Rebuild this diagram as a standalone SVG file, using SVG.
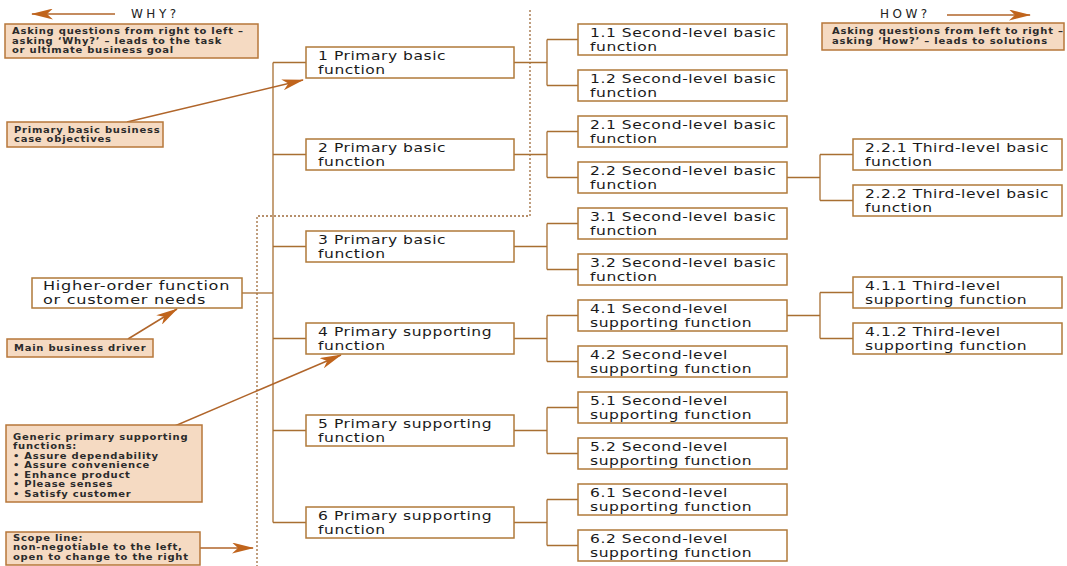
<svg xmlns="http://www.w3.org/2000/svg" width="1067" height="566" viewBox="0 0 1067 566">
<style>
  .node { fill: #ffffff; stroke: #b07a3a; stroke-width: 1.5; }
  .ann { fill: #f5dac2; stroke: #b7773a; stroke-width: 1.5; }
  .conn { fill: none; stroke: #a86f32; stroke-width: 1.3; }
  .arrow { fill: none; stroke: #b0652a; stroke-width: 1.5; }
  .scope { fill: none; stroke: #9e6b3b; stroke-width: 1.3; stroke-dasharray: 2 2; }
  .t { font-family: "DejaVu Sans", Verdana, sans-serif; font-size: 11.5px; letter-spacing: 0.4px; fill: #1a1a1a; }
  .th { font-family: "DejaVu Sans", Verdana, sans-serif; font-size: 11.5px; letter-spacing: 0.5px; fill: #1a1a1a; }
  .ta { font-family: "DejaVu Sans", Verdana, sans-serif; font-size: 8px; font-weight: bold; letter-spacing: 0.6px; fill: #2b2b2b; }
  .tq { font-family: "DejaVu Sans", Verdana, sans-serif; font-size: 12px; letter-spacing: 3.5px; fill: #222222; }
</style>
<defs>
  <marker id="ah" markerUnits="userSpaceOnUse" markerWidth="22" markerHeight="11" refX="21" refY="5.5" orient="auto">
    <path d="M0,0 L22,5.5 L0,11 L6,5.5 z" fill="#c0641c"/>
  </marker>
</defs>
<rect width="1067" height="566" fill="#ffffff"/>

<!-- scope line -->
<path id="scope-line" class="scope" d="M530,10 V216 H257 V566"/>

<!-- connectors -->
<g id="connectors">
  <path class="conn" d="M273,62.5 V522.5"/>
  <path class="conn" d="M273,62.5 H306 M273,154.5 H306 M273,246.5 H306 M273,338.5 H306 M273,430.5 H306 M273,522.5 H306"/>
  <path class="conn" d="M242,293 H273"/>
  <path class="conn" d="M514,62.5 H547 M547,39.5 V85.5 M547,39.5 H578 M547,85.5 H578"/>
  <path class="conn" d="M514,154.5 H547 M547,131.5 V177.5 M547,131.5 H578 M547,177.5 H578"/>
  <path class="conn" d="M514,246.5 H547 M547,223.5 V269.5 M547,223.5 H578 M547,269.5 H578"/>
  <path class="conn" d="M514,338.5 H547 M547,315.5 V361.5 M547,315.5 H578 M547,361.5 H578"/>
  <path class="conn" d="M514,430.5 H547 M547,407.5 V453.5 M547,407.5 H578 M547,453.5 H578"/>
  <path class="conn" d="M514,522.5 H547 M547,499.5 V545.5 M547,499.5 H578 M547,545.5 H578"/>
  <path class="conn" d="M787,177.5 H820 M820,154.5 V200.5 M820,154.5 H853 M820,200.5 H853"/>
  <path class="conn" d="M787,315.5 H820 M820,292.5 V338.5 M820,292.5 H853 M820,338.5 H853"/>
  <line class="arrow" x1="115" y1="14" x2="32" y2="14" marker-end="url(#ah)"/>
  <line class="arrow" x1="947" y1="15" x2="1030" y2="15" marker-end="url(#ah)"/>
  <line class="arrow" x1="127" y1="122" x2="303" y2="80" marker-end="url(#ah)"/>
  <line class="arrow" x1="128" y1="339" x2="177" y2="309" marker-end="url(#ah)"/>
  <line class="arrow" x1="163" y1="431" x2="341" y2="355" marker-end="url(#ah)"/>
  <line class="arrow" x1="200" y1="548" x2="253" y2="548" marker-end="url(#ah)"/>
</g>

<!-- direction labels -->
<text class="tq" x="131" y="18">WHY?</text>
<text class="tq" x="880" y="18">HOW?</text>

<!-- annotations -->
<g id="ann-why">
  <rect class="ann" x="5" y="24" width="253" height="34"/>
  <g transform="matrix(1.25 0 0 1 12 0)">
    <text class="ta" x="0" y="34.5">Asking questions from right to left –</text>
    <text class="ta" x="0" y="44">asking ‘Why?’ – leads to the task</text>
    <text class="ta" x="0" y="53.5">or ultimate business goal</text>
  </g>
</g>
<g id="ann-how">
  <rect class="ann" x="822" y="23" width="242" height="27"/>
  <g transform="matrix(1.25 0 0 1 832 0)">
    <text class="ta" x="0" y="34.5">Asking questions from left to right –</text>
    <text class="ta" x="0" y="44">asking ‘How?’ – leads to solutions</text>
  </g>
</g>
<g id="ann-objectives">
  <rect class="ann" x="7" y="122" width="156" height="25"/>
  <g transform="matrix(1.25 0 0 1 14 0)">
    <text class="ta" x="0" y="133">Primary basic business</text>
    <text class="ta" x="0" y="142.5">case objectives</text>
  </g>
</g>
<g id="ann-driver">
  <rect class="ann" x="7" y="339" width="146" height="18"/>
  <g transform="matrix(1.25 0 0 1 14 0)">
    <text class="ta" x="0" y="351">Main business driver</text>
  </g>
</g>
<g id="ann-generic">
  <rect class="ann" x="6" y="425" width="196" height="77"/>
  <g transform="matrix(1.25 0 0 1 13 0)">
    <text class="ta" x="0" y="440">Generic primary supporting</text>
    <text class="ta" x="0" y="449.5">functions:</text>
    <text class="ta" x="0" y="459">• Assure dependability</text>
    <text class="ta" x="0" y="468.5">• Assure convenience</text>
    <text class="ta" x="0" y="478">• Enhance product</text>
    <text class="ta" x="0" y="487.5">• Please senses</text>
    <text class="ta" x="0" y="497">• Satisfy customer</text>
  </g>
</g>
<g id="ann-scope">
  <rect class="ann" x="6" y="532" width="194" height="33"/>
  <g transform="matrix(1.25 0 0 1 13 0)">
    <text class="ta" x="0" y="541">Scope line:</text>
    <text class="ta" x="0" y="550.5">non-negotiable to the left,</text>
    <text class="ta" x="0" y="560">open to change to the right</text>
  </g>
</g>

<!-- higher-order -->
<g id="n0">
  <rect class="node" x="32" y="278" width="210" height="30"/>
  <g transform="matrix(1.4 0 0 1 43 0)">
    <text class="th" x="0" y="290.5">Higher-order function</text>
    <text class="th" x="0" y="304">or customer needs</text>
  </g>
</g>

<!-- primary -->
<g id="n1"><rect class="node" x="306" y="47" width="208" height="31"/><g transform="matrix(1.35 0 0 1 318 0)"><text class="t" x="0" y="60.5">1 Primary basic</text><text class="t" x="0" y="74">function</text></g></g>
<g id="n2"><rect class="node" x="306" y="139" width="208" height="31"/><g transform="matrix(1.35 0 0 1 318 0)"><text class="t" x="0" y="152.5">2 Primary basic</text><text class="t" x="0" y="166">function</text></g></g>
<g id="n3"><rect class="node" x="306" y="231" width="208" height="31"/><g transform="matrix(1.35 0 0 1 318 0)"><text class="t" x="0" y="244.5">3 Primary basic</text><text class="t" x="0" y="258">function</text></g></g>
<g id="n4"><rect class="node" x="306" y="323" width="208" height="31"/><g transform="matrix(1.35 0 0 1 318 0)"><text class="t" x="0" y="336.5">4 Primary supporting</text><text class="t" x="0" y="350">function</text></g></g>
<g id="n5"><rect class="node" x="306" y="415" width="208" height="31"/><g transform="matrix(1.35 0 0 1 318 0)"><text class="t" x="0" y="428.5">5 Primary supporting</text><text class="t" x="0" y="442">function</text></g></g>
<g id="n6"><rect class="node" x="306" y="507" width="208" height="31"/><g transform="matrix(1.35 0 0 1 318 0)"><text class="t" x="0" y="520.5">6 Primary supporting</text><text class="t" x="0" y="534">function</text></g></g>

<!-- second level -->
<g id="n1-1"><rect class="node" x="578" y="24" width="209" height="31"/><g transform="matrix(1.35 0 0 1 590 0)"><text class="t" x="0" y="37.5">1.1 Second-level basic</text><text class="t" x="0" y="51">function</text></g></g>
<g id="n1-2"><rect class="node" x="578" y="70" width="209" height="31"/><g transform="matrix(1.35 0 0 1 590 0)"><text class="t" x="0" y="83.5">1.2 Second-level basic</text><text class="t" x="0" y="97">function</text></g></g>
<g id="n2-1"><rect class="node" x="578" y="116" width="209" height="31"/><g transform="matrix(1.35 0 0 1 590 0)"><text class="t" x="0" y="129.5">2.1 Second-level basic</text><text class="t" x="0" y="143">function</text></g></g>
<g id="n2-2"><rect class="node" x="578" y="162" width="209" height="31"/><g transform="matrix(1.35 0 0 1 590 0)"><text class="t" x="0" y="175.5">2.2 Second-level basic</text><text class="t" x="0" y="189">function</text></g></g>
<g id="n3-1"><rect class="node" x="578" y="208" width="209" height="31"/><g transform="matrix(1.35 0 0 1 590 0)"><text class="t" x="0" y="221.5">3.1 Second-level basic</text><text class="t" x="0" y="235">function</text></g></g>
<g id="n3-2"><rect class="node" x="578" y="254" width="209" height="31"/><g transform="matrix(1.35 0 0 1 590 0)"><text class="t" x="0" y="267.5">3.2 Second-level basic</text><text class="t" x="0" y="281">function</text></g></g>
<g id="n4-1"><rect class="node" x="578" y="300" width="209" height="31"/><g transform="matrix(1.35 0 0 1 590 0)"><text class="t" x="0" y="313.5">4.1 Second-level</text><text class="t" x="0" y="327">supporting function</text></g></g>
<g id="n4-2"><rect class="node" x="578" y="346" width="209" height="31"/><g transform="matrix(1.35 0 0 1 590 0)"><text class="t" x="0" y="359.5">4.2 Second-level</text><text class="t" x="0" y="373">supporting function</text></g></g>
<g id="n5-1"><rect class="node" x="578" y="392" width="209" height="31"/><g transform="matrix(1.35 0 0 1 590 0)"><text class="t" x="0" y="405.5">5.1 Second-level</text><text class="t" x="0" y="419">supporting function</text></g></g>
<g id="n5-2"><rect class="node" x="578" y="438" width="209" height="31"/><g transform="matrix(1.35 0 0 1 590 0)"><text class="t" x="0" y="451.5">5.2 Second-level</text><text class="t" x="0" y="465">supporting function</text></g></g>
<g id="n6-1"><rect class="node" x="578" y="484" width="209" height="31"/><g transform="matrix(1.35 0 0 1 590 0)"><text class="t" x="0" y="497.5">6.1 Second-level</text><text class="t" x="0" y="511">supporting function</text></g></g>
<g id="n6-2"><rect class="node" x="578" y="530" width="209" height="31"/><g transform="matrix(1.35 0 0 1 590 0)"><text class="t" x="0" y="543.5">6.2 Second-level</text><text class="t" x="0" y="557">supporting function</text></g></g>

<!-- third level -->
<g id="n2-2-1"><rect class="node" x="853" y="139" width="209" height="31"/><g transform="matrix(1.35 0 0 1 865 0)"><text class="t" x="0" y="152.5">2.2.1 Third-level basic</text><text class="t" x="0" y="166">function</text></g></g>
<g id="n2-2-2"><rect class="node" x="853" y="185" width="209" height="31"/><g transform="matrix(1.35 0 0 1 865 0)"><text class="t" x="0" y="198.5">2.2.2 Third-level basic</text><text class="t" x="0" y="212">function</text></g></g>
<g id="n4-1-1"><rect class="node" x="853" y="277" width="209" height="31"/><g transform="matrix(1.35 0 0 1 865 0)"><text class="t" x="0" y="290.5">4.1.1 Third-level</text><text class="t" x="0" y="304">supporting function</text></g></g>
<g id="n4-1-2"><rect class="node" x="853" y="323" width="209" height="31"/><g transform="matrix(1.35 0 0 1 865 0)"><text class="t" x="0" y="336.5">4.1.2 Third-level</text><text class="t" x="0" y="350">supporting function</text></g></g>
</svg>
